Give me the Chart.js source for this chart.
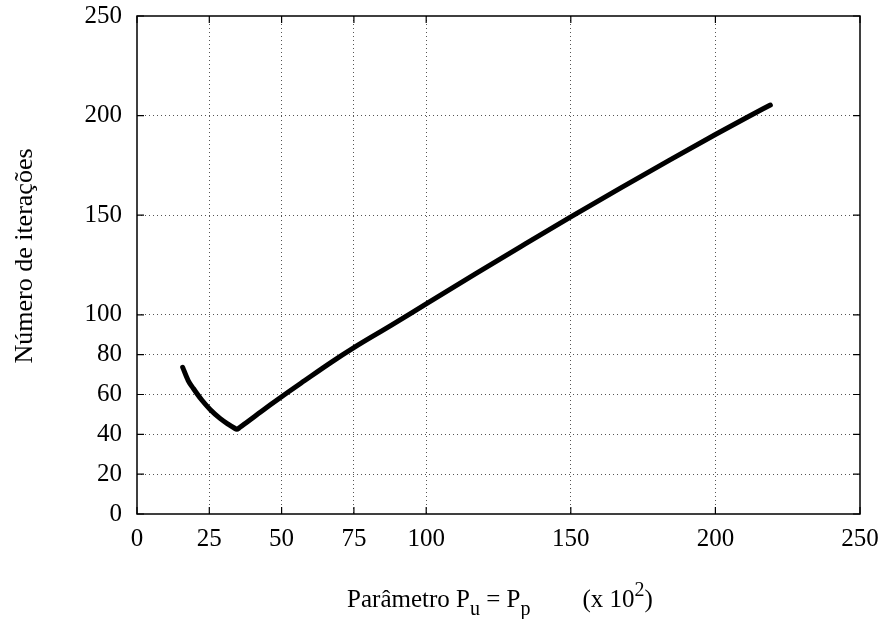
<!DOCTYPE html>
<html>
<head>
<meta charset="utf-8">
<script src="https://cdn.jsdelivr.net/npm/chart.js@4/dist/chart.umd.min.js"></script>
<style>
  body { margin: 0; background: #fff; }
</style>
</head>
<body>
<canvas id="iter" width="885" height="619"></canvas>
<script>
// data
const paramX = [15.8, 17.7, 19.5, 22.4, 25.2, 28.7, 31.5, 33.5, 34.5, 35.5, 38, 42, 46, 50, 58, 67, 75, 88, 100, 117, 133, 150, 167, 184, 200, 211, 219];
const iterY = [73.6, 67, 63, 57.2, 52.6, 48.0, 45.1, 43.3, 42.5, 43.4, 46.1, 50.4, 54.7, 58.9, 67, 76, 83.5, 94.8, 105.5, 120.5, 134.5, 149.2, 163.5, 177.5, 190.5, 199.2, 205.3];

const xTicks = [0, 25, 50, 75, 100, 150, 200, 250];
const yTicks = [0, 20, 40, 60, 80, 100, 150, 200, 250];

const serif = "'Liberation Serif', 'Times New Roman', serif";

// dotted grid, but not on the frame itself
function gridColor(ctx) {
  const v = ctx.tick && ctx.tick.value;
  return (v === 0 || v === 250) ? "rgba(0,0,0,0)" : "#555";
}

// frame, inward tics and axis titles
const framePlugin = {
  id: "frame",
  afterDraw(chart) {
    const c = chart.ctx;
    const a = chart.chartArea;
    const sx = chart.scales.x, sy = chart.scales.y;
    const tic = 7;
    c.save();
    c.strokeStyle = "#000";
    c.lineWidth = 1.5;
    c.strokeRect(a.left, a.top, a.right - a.left, a.bottom - a.top);

    c.lineWidth = 1.2;
    c.beginPath();
    xTicks.forEach(v => {
      const px = sx.getPixelForValue(v);
      c.moveTo(px, a.bottom); c.lineTo(px, a.bottom - tic);
      c.moveTo(px, a.top); c.lineTo(px, a.top + tic);
    });
    yTicks.forEach(v => {
      const py = sy.getPixelForValue(v);
      c.moveTo(a.left, py); c.lineTo(a.left + tic, py);
      c.moveTo(a.right, py); c.lineTo(a.right - tic, py);
    });
    c.stroke();

    // y title
    c.fillStyle = "#000";
    c.font = "26px " + serif;
    c.textAlign = "center";
    c.textBaseline = "middle";
    c.translate(25, 256);
    c.rotate(-Math.PI / 2);
    c.fillText("Número de iterações", 0, 0);
    c.setTransform(1, 0, 0, 1, 0, 0);

    // x title with sub/superscripts
    const big = "25px " + serif, small = "20px " + serif;
    const parts = [
      { t: "Parâmetro P", f: big, dy: 0 },
      { t: "u", f: small, dy: 8 },
      { t: " = P", f: big, dy: 0 },
      { t: "p", f: small, dy: 8 },
      { t: "", f: big, dy: 0, gap: 52 },
      { t: "(x 10", f: big, dy: 0 },
      { t: "2", f: small, dy: -11 },
      { t: ")", f: big, dy: 0 }
    ];
    let w = 0;
    parts.forEach(p => { c.font = p.f; p.w = c.measureText(p.t).width + (p.gap || 0); w += p.w; });
    let x = 500 - w / 2;
    const base = 607;
    c.textAlign = "left";
    c.textBaseline = "alphabetic";
    parts.forEach(p => {
      c.font = p.f;
      c.fillText(p.t, x, base + p.dy);
      x += p.w;
    });
    c.restore();
  }
};

new Chart(document.getElementById("iter"), {
  type: "line",
  data: {
    datasets: [{
      data: paramX.map((x, i) => ({ x: x, y: iterY[i] })),
      borderColor: "#000",
      borderWidth: 5,
      borderCapStyle: "round",
      borderJoinStyle: "round",
      pointRadius: 0,
      cubicInterpolationMode: "monotone",
      fill: false
    }]
  },
  options: {
    responsive: false,
    animation: false,
    layout: { padding: { top: 16, right: 25, left: 0, bottom: 0 } },
    plugins: {
      legend: { display: false },
      tooltip: { enabled: false }
    },
    scales: {
      x: {
        type: "linear",
        min: 0,
        max: 250,
        afterBuildTicks: s => { s.ticks = xTicks.map(v => ({ value: v })); },
        afterFit: s => { s.height = 105; s.paddingLeft = 0; s.paddingRight = 0; },
        border: { display: false, dash: [1, 3] },
        grid: { color: gridColor, lineWidth: 1, drawTicks: false },
        ticks: { autoSkip: false, maxRotation: 0, padding: 10, color: "#000", font: { family: serif, size: 25 } }
      },
      y: {
        type: "linear",
        min: 0,
        max: 250,
        afterBuildTicks: s => { s.ticks = yTicks.map(v => ({ value: v })); },
        afterFit: s => { s.width = 137; s.paddingTop = 0; s.paddingBottom = 0; },
        border: { display: false, dash: [1, 3] },
        grid: { color: gridColor, lineWidth: 1, drawTicks: false },
        ticks: { autoSkip: false, padding: 15, color: "#000", font: { family: serif, size: 25 } }
      }
    }
  },
  plugins: [framePlugin]
});
</script>
</body>
</html>
